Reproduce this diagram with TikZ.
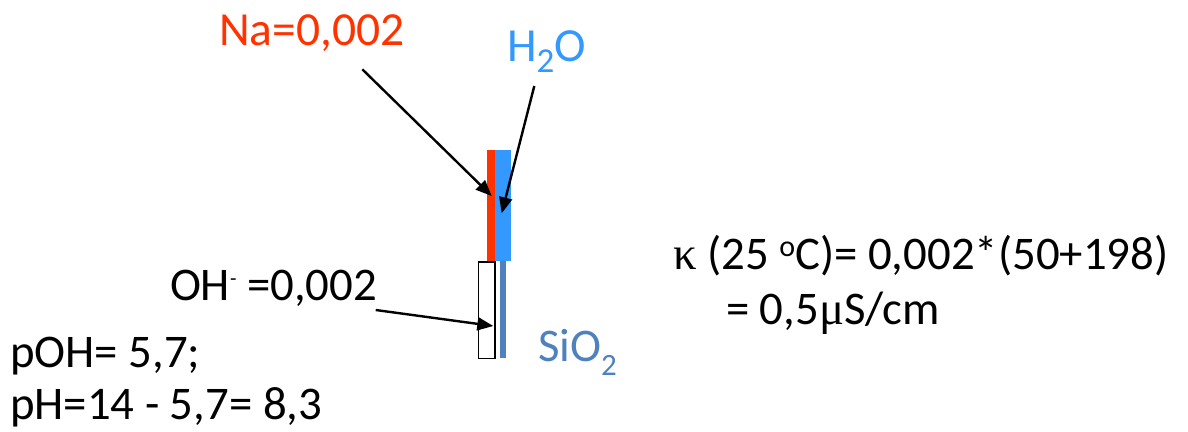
\documentclass[tikz,border=0pt]{standalone}
\usepackage{fontspec}
\setmainfont{Carlito}
\newfontfamily\symfont{Liberation Serif}
\usetikzlibrary{arrows.meta}
\definecolor{naRed}{HTML}{FF3300}
\definecolor{waterBlue}{HTML}{3399FF}
\definecolor{siBlue}{HTML}{4F81BD}
\tikzset{
  lbl/.style={anchor=base west, inner sep=0pt, outer sep=0pt, font=\fontsize{46.8}{56}\selectfont},
  biglbl/.style={lbl, font=\fontsize{47.5}{57}\selectfont},
  ptr/.style={line width=2.4pt, -{Triangle[length=16pt,width=13pt]}},
  layer/.style={inner sep=0pt, outer sep=0pt, draw=none, anchor=north west},
}
\begin{document}
\begin{tikzpicture}[x=1pt,y=-1pt]
\useasboundingbox (0,0) rectangle (1188,431);
% layers
\node[layer, fill=naRed, minimum width=7.8pt, minimum height=111pt] (na) at (486.7,150) {};
\node[layer, fill=waterBlue, minimum width=16.2pt, minimum height=111pt] (water) at (494.5,150) {};
\node[layer, draw=black, line width=1.4pt, fill=white, minimum width=16.4pt, minimum height=96.4pt] (oh) at (478.4,262) {};
\node[layer, fill=siBlue, minimum width=5.7pt, minimum height=97pt] (si) at (500,261.3) {};
% labels
\node[biglbl, text=naRed] (natext) at (219,45) {Na=0,002};
\node[biglbl, text=waterBlue] (h2o) at (507,61) {H\raisebox{-11.7pt}{\fontsize{35}{35}\selectfont 2}O};
\node[lbl] (ohtext) at (170,300.7) {OH\raisebox{15.5pt}{\fontsize{21}{21}\selectfont -} =0,002};
\node[lbl] (poh) at (10,367) {pOH= 5,7;};
\node[lbl] (ph) at (10,419) {pH=14 - 5,7= 8,3};
\node[lbl, text=siBlue] (sio2) at (538,361) {SiO\raisebox{-14pt}{\fontsize{31}{31}\selectfont 2}};
\node[lbl] (kap) at (673,269) {{\symfont κ} (25 \raisebox{13pt}{\fontsize{30}{30}\selectfont o}C)= 0,002*(50+198)};
\node[lbl] (cond) at (726,324) {= 0,5{\symfont μ}S/cm};
% connectors
\coordinate (naFrom) at (362.3,69.3);
\coordinate (naTo) at (491.7,196);
\coordinate (h2oFrom) at (534.3,86);
\coordinate (h2oTo) at (501.7,213.3);
\coordinate (ohFrom) at (375.7,310);
\coordinate (ohTo) at (493.3,326);
\draw[ptr] (naFrom) -- (naTo);
\draw[ptr] (h2oFrom) -- (h2oTo);
\draw[ptr] (ohFrom) -- (ohTo);
\end{tikzpicture}
\end{document}
